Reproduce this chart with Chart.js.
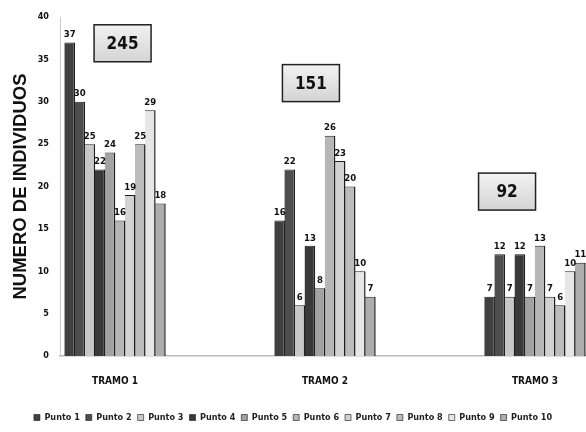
<!DOCTYPE html>
<html>
<head>
<meta charset="utf-8">
<script src="https://cdn.jsdelivr.net/npm/chart.js@4/dist/chart.umd.min.js"></script>
<style>
  html, body { margin: 0; padding: 0; background: #fff; }
  #wrap { width: 586px; height: 432px; position: relative; }
</style>
</head>
<body>
<div id="wrap"><canvas id="tramosChart"></canvas></div>
<script>
// ===== Individuos por punto y tramo =====

const tramos = ['TRAMO 1', 'TRAMO 2', 'TRAMO 3'];
const puntos = ['Punto 1', 'Punto 2', 'Punto 3', 'Punto 4', 'Punto 5',
                'Punto 6', 'Punto 7', 'Punto 8', 'Punto 9', 'Punto 10'];

// values per punto, one entry per tramo
const punto1 = [37, 16, 7];
const punto2 = [30, 22, 12];
const punto3 = [25, 6, 7];
const punto4 = [22, 13, 12];
const punto5 = [24, 8, 7];
const punto6 = [16, 26, 13];
const punto7 = [19, 23, 7];
const punto8 = [25, 20, 6];
const punto9 = [29, 10, 10];
const punto10 = [18, 7, 11];

const totales = [245, 151, 92];
const yTicks = [0, 5, 10, 15, 20, 25, 30, 35, 40];

const series = [punto1, punto2, punto3, punto4, punto5, punto6, punto7, punto8, punto9, punto10];

// greys, scanned look
const colors = ['#404040', '#4e4e4e', '#c8c8c8', '#393939', '#a2a2a2',
                '#b6b6b6', '#d2d2d2', '#bcbcbc', '#e6e6e6', '#adadad'];

// total box centres, in axis units
const boxPos = [[0.036, 36.9], [0.933, 32.2], [1.867, 19.4]];

const labelFont = "'Liberation Sans Narrow', 'DejaVu Sans Condensed', 'Liberation Sans', sans-serif";

const barLabels = {
  id: 'barLabels',
  afterDatasetsDraw(chart) {
    const ctx = chart.ctx;
    ctx.save();
    ctx.font = 'bold 9.5px ' + labelFont;
    ctx.fillStyle = '#111';
    ctx.textAlign = 'center';
    ctx.textBaseline = 'bottom';
    chart.data.datasets.forEach((ds, i) => {
      chart.getDatasetMeta(i).data.forEach((bar, j) => {
        ctx.fillText(String(ds.data[j].y), bar.x, bar.y - 3);
      });
    });
    ctx.restore();
  }
};

const totalBoxes = {
  id: 'totalBoxes',
  afterDraw(chart) {
    const ctx = chart.ctx;
    const xs = chart.scales.x, ys = chart.scales.y;
    ctx.save();
    totales.forEach((t, i) => {
      const cx = xs.getPixelForValue(boxPos[i][0]);
      const cy = ys.getPixelForValue(boxPos[i][1]);
      const w = 57, h = 37;
      const g = ctx.createLinearGradient(0, cy - h / 2, 0, cy + h / 2);
      g.addColorStop(0, '#f2f2f2');
      g.addColorStop(1, '#d4d4d4');
      ctx.fillStyle = g;
      ctx.fillRect(cx - w / 2, cy - h / 2, w, h);
      ctx.strokeStyle = '#222';
      ctx.lineWidth = 1.5;
      ctx.strokeRect(cx - w / 2, cy - h / 2, w, h);
      ctx.fillStyle = '#111';
      ctx.font = 'bold 17px ' + labelFont;
      ctx.textAlign = 'center';
      ctx.textBaseline = 'middle';
      ctx.fillText(String(t), cx, cy + 1);
    });
    ctx.restore();
  }
};

const ctx = document.getElementById('tramosChart').getContext('2d');

new Chart(ctx, {
  type: 'bar',
  data: {
    datasets: series.map((vals, i) => ({
      label: puntos[i],
      data: vals.map((v, j) => ({ x: j, y: v })),
      backgroundColor: colors[i],
      borderColor: '#1e1e1e',
      borderWidth: { top: 1, right: 1.5, left: 0, bottom: 0 },
      borderSkipped: false,
      categoryPercentage: 0.48,
      barPercentage: 1.06
    }))
  },
  options: {
    responsive: true,
    maintainAspectRatio: false,
    animation: false,
    layout: { padding: { top: 17, right: 0, bottom: 0, left: 0 } },
    plugins: {
      legend: {
        display: true,
        position: 'bottom',
        labels: {
          color: '#222',
          font: { family: labelFont, size: 9, weight: 'bold' },
          boxWidth: 6,
          boxHeight: 6,
          padding: 6
        }
      },
      tooltip: { enabled: false }
    },
    scales: {
      x: {
        type: 'linear',
        offset: false,
        min: -0.262,
        max: 2.243,
        grid: { display: false, offset: false },
        border: { display: true, color: '#bbbbbb', width: 1.5 },
        afterBuildTicks(scale) {
          scale.ticks = tramos.map((t, i) => ({ value: i }));
        },
        afterFit(scale) { scale.height = 51; },
        ticks: {
          padding: 11,
          color: '#111',
          font: { family: labelFont, size: 10, weight: 'bold' },
          callback: (v) => tramos[v]
        }
      },
      y: {
        min: 0,
        max: 40,
        grid: { display: false },
        border: { display: true, color: '#cccccc', width: 1 },
        afterBuildTicks(scale) {
          scale.ticks = yTicks.map(v => ({ value: v }));
        },
        afterFit(scale) { scale.width = 60; },
        ticks: {
          padding: 3,
          color: '#111',
          font: { family: labelFont, size: 9, weight: 'bold' }
        },
        title: {
          display: true,
          text: 'NUMERO DE INDIVIDUOS',
          color: '#111',
          padding: { top: 10, bottom: 4 },
          font: { family: "'Liberation Sans', Arial, sans-serif", size: 18.5, weight: 'bold' }
        }
      }
    }
  },
  plugins: [barLabels, totalBoxes]
});
</script>
</body>
</html>
